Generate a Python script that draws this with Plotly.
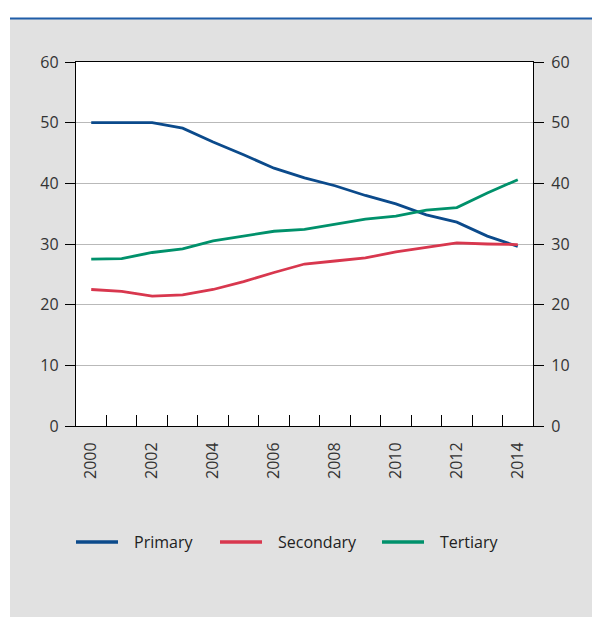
import plotly.graph_objects as go

years = list(range(2000, 2015))
primary = [50.0, 50.0, 50.0, 49.1, 46.8, 44.7, 42.5, 40.9, 39.6, 38.0, 36.6, 34.8, 33.6, 31.3, 29.6]
secondary = [22.5, 22.2, 21.4, 21.6, 22.5, 23.8, 25.3, 26.7, 27.2, 27.7, 28.7, 29.4, 30.2, 30.0, 29.9]
tertiary = [27.5, 27.6, 28.6, 29.2, 30.5, 31.3, 32.1, 32.4, 33.2, 34.1, 34.6, 35.6, 36.0, 38.4, 40.6]
series_names = ["Primary", "Secondary", "Tertiary"]
colors = ["#0b4a8b", "#d8374e", "#00916b"]
label_years = list(range(2000, 2015, 2))
boundaries = [y - 0.5 for y in years] + [years[-1] + 0.5]
y_ticks = list(range(0, 61, 10))

FONT = "Open Sans"
W, H = 592, 617
L, T = 76, 62
R = W - 533
B = H - 426
pw, ph = W - L - R, H - T - B

def px_x(x):
    # page pixel -> paper fraction
    return (x - L) / pw

def px_y(y):
    return (H - B - y) / ph

fig = go.Figure()
for name, vals, c in zip(series_names, [primary, secondary, tertiary], colors):
    fig.add_trace(go.Scatter(x=years, y=vals, name=name, mode="lines",
                             line=dict(color=c, width=2.8), xaxis="x", yaxis="y",
                             showlegend=False))

# invisible trace to activate secondary axes
fig.add_trace(go.Scatter(x=[years[0]], y=[0], xaxis="x2", yaxis="y2", mode="markers",
                         marker=dict(opacity=0), showlegend=False, hoverinfo="skip"))

shapes = [
    dict(type="rect", xref="paper", yref="paper", x0=px_x(-20), x1=px_x(620), y0=px_y(18), y1=px_y(-20),
         fillcolor="white", line=dict(width=0), layer="below"),
    dict(type="rect", xref="paper", yref="paper", x0=px_x(-20), x1=px_x(10), y0=px_y(640), y1=px_y(-20),
         fillcolor="white", line=dict(width=0), layer="below"),
    dict(type="line", xref="paper", yref="paper", x0=px_x(10), x1=px_x(600), y0=px_y(18.5), y1=px_y(18.5),
         line=dict(color="#1f5da8", width=2), layer="below"),
]
annotations = []
# manual legend
leg_y = px_y(542)
leg_starts = [76, 220, 382]
for name, c, xs in zip(series_names, colors, leg_starts):
    shapes.append(dict(type="line", xref="paper", yref="paper", x0=px_x(xs), x1=px_x(xs + 42),
                       y0=leg_y, y1=leg_y, line=dict(color=c, width=3.5)))
    annotations.append(dict(xref="paper", yref="paper", x=px_x(xs + 56), y=leg_y, text=name,
                            showarrow=False, xanchor="left", yanchor="middle",
                            font=dict(family=FONT, size=16, color="#222222")))

fig.update_layout(
    width=W, height=H,
    margin=dict(l=L, r=R, t=T, b=B),
    paper_bgcolor="#e1e1e1",
    plot_bgcolor="white",
    font=dict(family=FONT, size=16, color="#333333"),
    showlegend=False,
    xaxis=dict(range=[1999.5, 2014.5], tickmode="array", tickvals=boundaries,
               ticks="inside", ticklen=11, tickcolor="black", tickwidth=1.3,
               showticklabels=False, showgrid=False, zeroline=False,
               showline=True, linecolor="black", linewidth=1.3, mirror=True),
    xaxis2=dict(range=[1999.5, 2014.5], overlaying="x", anchor="y", side="bottom",
                tickmode="array", tickvals=label_years, ticktext=[str(v) for v in label_years],
                tickangle=-90, ticks="outside", ticklen=9, tickcolor="rgba(0,0,0,0)",
                showgrid=False, zeroline=False, showline=False,
                tickfont=dict(family=FONT, size=16, color="#333333")),
    yaxis=dict(range=[0, 60], tickmode="array", tickvals=y_ticks,
               ticks="outside", ticklen=10, tickcolor="black", tickwidth=1.3,
               showgrid=True, gridcolor="#b9b9b9", gridwidth=1.3, zeroline=False,
               showline=True, linecolor="black", linewidth=1.3, ticklabelstandoff=3,
               tickfont=dict(family=FONT, size=16, color="#333333")),
    yaxis2=dict(range=[0, 60], overlaying="y", side="right", anchor="x",
                tickmode="array", tickvals=y_ticks,
                ticks="outside", ticklen=10, tickcolor="black", tickwidth=1.3,
                showgrid=False, zeroline=False, ticklabelstandoff=4,
                showline=True, linecolor="black", linewidth=1.3,
                tickfont=dict(family=FONT, size=16, color="#333333")),
    shapes=shapes,
    annotations=annotations,
)

fig.write_html("out.html", config={"displayModeBar": False},
               post_script="document.body.style.margin='0px';document.body.style.overflow='hidden';")
